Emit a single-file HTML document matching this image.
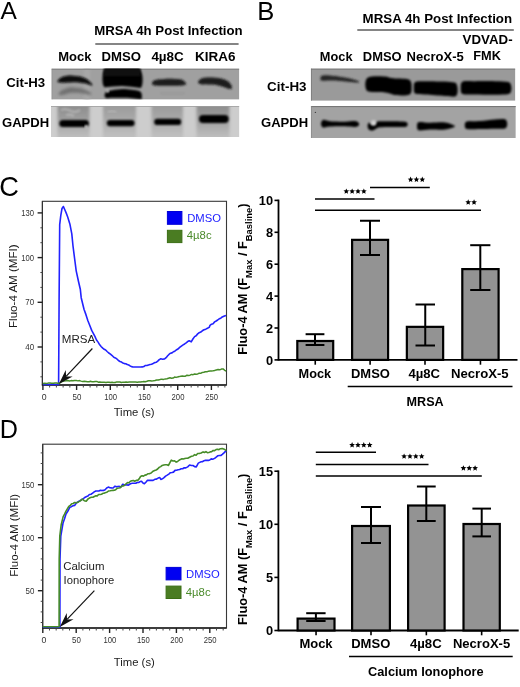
<!DOCTYPE html>
<html><head><meta charset="utf-8"><style>
html,body{margin:0;padding:0;background:#fff;width:520px;height:687px;overflow:hidden}
svg{display:block;font-family:"Liberation Sans",sans-serif;will-change:transform;filter:blur(0.3px)}
</style></head><body>
<svg width="520" height="687" viewBox="0 0 520 687">
<rect width="520" height="687" fill="#fff"/>
<text x="0.5" y="19" font-size="24.5" fill="#000">A</text>
<text x="257.3" y="19.7" font-size="25.6" fill="#000">B</text>
<text x="-0.8" y="195.7" font-size="27.2" fill="#000">C</text>
<text x="-0.2" y="438.3" font-size="25.2" fill="#000">D</text>
<text x="94.2" y="35" font-size="12.8" font-weight="bold" fill="#000" textLength="148.5" lengthAdjust="spacingAndGlyphs">MRSA 4h Post Infection</text>
<line x1="95.3" y1="44.0" x2="238.6" y2="44.0" stroke="#5c5c5c" stroke-width="1.7"/>
<text x="58.3" y="61" font-size="12.9" font-weight="bold" fill="#000" textLength="33.2" lengthAdjust="spacingAndGlyphs">Mock</text>
<text x="101.6" y="61" font-size="12.9" font-weight="bold" fill="#000" textLength="39.5" lengthAdjust="spacingAndGlyphs">DMSO</text>
<text x="151.4" y="61" font-size="12.9" font-weight="bold" fill="#000" textLength="32.4" lengthAdjust="spacingAndGlyphs">4µ8C</text>
<text x="195.0" y="61" font-size="12.9" font-weight="bold" fill="#000" textLength="40.4" lengthAdjust="spacingAndGlyphs">KIRA6</text>
<text x="6.3" y="87" font-size="12.8" font-weight="bold" fill="#000" textLength="38.9" lengthAdjust="spacingAndGlyphs">Cit-H3</text>
<text x="2.0" y="127.1" font-size="12.8" font-weight="bold" fill="#000" textLength="47.2" lengthAdjust="spacingAndGlyphs">GAPDH</text>
<text x="362.6" y="22.9" font-size="12.8" font-weight="bold" fill="#000" textLength="149.5" lengthAdjust="spacingAndGlyphs">MRSA 4h Post Infection</text>
<line x1="357.3" y1="30.0" x2="513.8" y2="30.0" stroke="#5c5c5c" stroke-width="1.7"/>
<text x="319.8" y="60.8" font-size="12.8" font-weight="bold" fill="#000" textLength="32.7" lengthAdjust="spacingAndGlyphs">Mock</text>
<text x="362.8" y="60.8" font-size="12.8" font-weight="bold" fill="#000" textLength="38.9" lengthAdjust="spacingAndGlyphs">DMSO</text>
<text x="406.5" y="60.8" font-size="12.8" font-weight="bold" fill="#000" textLength="57.3" lengthAdjust="spacingAndGlyphs">NecroX-5</text>
<text x="462.6" y="44.4" font-size="12.8" font-weight="bold" fill="#000" textLength="50" lengthAdjust="spacingAndGlyphs">VDVAD-</text>
<text x="473.3" y="59.8" font-size="12.8" font-weight="bold" fill="#000" textLength="27.7" lengthAdjust="spacingAndGlyphs">FMK</text>
<text x="267.1" y="91" font-size="12.8" font-weight="bold" fill="#000" textLength="39.4" lengthAdjust="spacingAndGlyphs">Cit-H3</text>
<text x="261.0" y="126.5" font-size="12.8" font-weight="bold" fill="#000" textLength="47.2" lengthAdjust="spacingAndGlyphs">GAPDH</text>

<defs>
<filter id="b1" x="-20%" y="-60%" width="140%" height="220%"><feGaussianBlur stdDeviation="0.9"/></filter>
<filter id="b2" x="-20%" y="-50%" width="140%" height="200%"><feGaussianBlur stdDeviation="1.8"/></filter>
<filter id="b3" x="-20%" y="-50%" width="140%" height="200%"><feGaussianBlur stdDeviation="3"/></filter>
<clipPath id="cA1"><rect x="51.6" y="68.5" width="187.8" height="31.2"/></clipPath>
<clipPath id="cA2"><rect x="51" y="106.2" width="188.4" height="30.8"/></clipPath>
<clipPath id="cB1"><rect x="310.8" y="68.4" width="204.5" height="32.3"/></clipPath>
<clipPath id="cB2"><rect x="310.8" y="106" width="205" height="32"/></clipPath>
<linearGradient id="lg1" x1="0" y1="0" x2="0" y2="1"><stop offset="0.05" stop-color="#8a8a8a"/><stop offset="0.45" stop-color="#9c9c9c"/><stop offset="0.75" stop-color="#b4b4b4"/><stop offset="1" stop-color="#c4c4c4"/></linearGradient>
<linearGradient id="lg2" x1="0" y1="0" x2="0" y2="1"><stop offset="0.05" stop-color="#989898"/><stop offset="0.45" stop-color="#a8a8a8"/><stop offset="0.75" stop-color="#b9b9b9"/><stop offset="1" stop-color="#c6c6c6"/></linearGradient>
</defs>
<g clip-path="url(#cA1)">
<rect x="51.3" y="68.5" width="188" height="31" fill="#a0a0a0"/>
<rect x="84" y="68.5" width="6" height="31" fill="#a8a8a8" filter="url(#b2)"/>
<rect x="51.3" y="68.5" width="188" height="1.1" fill="#777"/>
<rect x="51.3" y="68.5" width="0.9" height="31" fill="#888"/>
<path d="M57.50,80.70 C58.17,80.12 59.87,78.03 61.50,77.20 C63.13,76.37 65.38,75.95 67.30,75.70 C69.22,75.45 71.08,75.60 73.00,75.70 C74.92,75.80 76.87,75.93 78.80,76.30 C80.73,76.67 82.98,77.25 84.60,77.90 C86.22,78.55 87.23,79.17 88.50,80.20 C89.77,81.23 91.58,83.45 92.20,84.10 L92.20,85.90 C91.58,85.68 89.77,85.03 88.50,84.60 C87.23,84.17 86.22,83.67 84.60,83.30 C82.98,82.93 80.73,82.58 78.80,82.40 C76.87,82.22 74.92,82.18 73.00,82.20 C71.08,82.22 69.22,82.42 67.30,82.50 C65.38,82.58 63.13,82.73 61.50,82.70 C59.87,82.67 58.17,82.37 57.50,82.30 Z" fill="#0a0a0a" filter="url(#b1)"/>
<path d="M58.50,93.20 C59.08,92.70 60.15,91.15 62.00,90.20 C63.85,89.25 67.43,87.92 69.60,87.50 C71.77,87.08 73.27,87.57 75.00,87.70 C76.73,87.83 78.17,87.92 80.00,88.30 C81.83,88.68 84.17,89.27 86.00,90.00 C87.83,90.73 90.17,92.25 91.00,92.70 L91.00,95.30 C90.17,95.10 87.83,94.50 86.00,94.10 C84.17,93.70 81.83,93.13 80.00,92.90 C78.17,92.67 76.73,92.70 75.00,92.70 C73.27,92.70 71.77,92.50 69.60,92.90 C67.43,93.30 63.85,94.78 62.00,95.10 C60.15,95.42 59.08,94.85 58.50,94.80 Z" fill="#707070" filter="url(#b2)"/>
<path d="M104.5,67 L139.5,67 Q142.8,74 142.6,80 Q142.5,86 140.8,88.0 Q131,86.5 122,86.1 Q113,86.5 104.2,87.3 Q102.2,84 102.4,79 Q102.6,72 104.5,67 Z" fill="#050505" filter="url(#b1)"/>
<rect x="104" y="68.5" width="36" height="8" fill="#1a1a1a" filter="url(#b1)" opacity="0.6"/>
<path d="M104.60,94.70 C104.88,94.20 105.07,92.45 106.30,91.70 C107.53,90.95 109.38,90.65 112.00,90.20 C114.62,89.75 118.67,89.08 122.00,89.00 C125.33,88.92 129.08,89.35 132.00,89.70 C134.92,90.05 137.87,90.35 139.50,91.10 C141.13,91.85 141.42,93.68 141.80,94.20 L141.80,98.90 C141.42,98.93 141.13,99.22 139.50,99.10 C137.87,98.98 134.92,98.43 132.00,98.20 C129.08,97.97 125.33,97.77 122.00,97.70 C118.67,97.63 114.62,97.73 112.00,97.80 C109.38,97.87 107.53,98.35 106.30,98.10 C105.07,97.85 104.88,96.60 104.60,96.30 Z" fill="#060606" filter="url(#b1)"/>
<circle cx="107.7" cy="91.2" r="1.3" fill="#e8e8e8" filter="url(#b1)"/>
<path d="M151.90,83.10 C152.42,82.58 152.82,80.70 155.00,80.00 C157.18,79.30 161.67,79.07 165.00,78.90 C168.33,78.73 172.17,78.87 175.00,79.00 C177.83,79.13 180.15,78.98 182.00,79.70 C183.85,80.42 185.42,82.70 186.10,83.30 L186.10,84.50 C185.42,84.67 183.85,85.30 182.00,85.50 C180.15,85.70 177.83,85.67 175.00,85.70 C172.17,85.73 168.33,85.73 165.00,85.70 C161.67,85.67 157.18,85.80 155.00,85.50 C152.82,85.20 152.42,84.17 151.90,83.90 Z" fill="#1a1a1a" filter="url(#b1)"/>
<path d="M198.00,81.70 C198.50,81.20 199.50,79.38 201.00,78.70 C202.50,78.02 204.67,77.77 207.00,77.60 C209.33,77.43 212.50,77.52 215.00,77.70 C217.50,77.88 219.83,78.12 222.00,78.70 C224.17,79.28 226.37,80.03 228.00,81.20 C229.63,82.37 231.17,84.95 231.80,85.70 L231.80,89.30 C231.17,89.18 229.63,89.07 228.00,88.60 C226.37,88.13 224.17,87.15 222.00,86.50 C219.83,85.85 217.50,85.05 215.00,84.70 C212.50,84.35 209.33,84.48 207.00,84.40 C204.67,84.32 202.50,84.48 201.00,84.20 C199.50,83.92 198.50,82.95 198.00,82.70 Z" fill="#1a1a1a" filter="url(#b1)"/>
<rect x="160" y="92.5" width="25" height="1.6" fill="#969696" filter="url(#b1)"/>
</g>
<g clip-path="url(#cA2)">
<rect x="51" y="106" width="188.4" height="31" fill="#cdcdcd"/>
<rect x="57.5" y="100" width="32.0" height="42" fill="url(#lg1)" filter="url(#b2)"/>
<rect x="103" y="100" width="33" height="42" fill="url(#lg2)" filter="url(#b2)"/>
<rect x="151.5" y="100" width="31.5" height="42" fill="url(#lg2)" filter="url(#b2)"/>
<rect x="196.5" y="100" width="33.0" height="42" fill="url(#lg1)" filter="url(#b2)"/>
<rect x="51" y="106" width="188.4" height="1" fill="#999"/>
<path d="M61,110 q5,-2 10,1 q5,2 9,-1 M66,115 q4,-1 8,1" stroke="#c8c8c8" stroke-width="1.8" fill="none" filter="url(#b1)" opacity="0.7"/>
<path d="M108,112 q4,-2 8,0" stroke="#c8c8c8" stroke-width="1.5" fill="none" filter="url(#b1)" opacity="0.6"/>
<rect x="59.3" y="120.0" width="29.6" height="7.100000000000003" rx="3.5500000000000016" fill="#040404" filter="url(#b1)"/>
<rect x="106.8" y="119.89999999999999" width="27.800000000000004" height="6.4" rx="3.2" fill="#040404" filter="url(#b1)"/>
<rect x="154.20000000000002" y="118.8" width="26.999999999999993" height="6.300000000000006" rx="3.150000000000003" fill="#040404" filter="url(#b1)"/>
<rect x="199.0" y="115.1" width="29.70000000000001" height="8.000000000000009" rx="4.000000000000004" fill="#040404" filter="url(#b1)"/>
<circle cx="86.2" cy="126.4" r="1.5" fill="#eee" filter="url(#b1)"/>
</g>
<g clip-path="url(#cB1)">
<rect x="310.8" y="68.4" width="204.7" height="32.4" fill="#9a9a9a"/>
<rect x="310.8" y="68.4" width="204.7" height="1.1" fill="#6e6e6e"/>
<rect x="310.8" y="68.4" width="0.9" height="32.4" fill="#777"/>
<path d="M320.40,78.10 C320.67,77.70 320.40,76.13 322.00,75.70 C323.60,75.27 327.00,75.33 330.00,75.50 C333.00,75.67 336.67,76.20 340.00,76.70 C343.33,77.20 346.83,77.75 350.00,78.50 C353.17,79.25 357.50,80.75 359.00,81.20 L359.00,82.60 C357.50,82.48 353.17,82.18 350.00,81.90 C346.83,81.62 343.33,81.13 340.00,80.90 C336.67,80.67 333.00,80.52 330.00,80.50 C327.00,80.48 323.60,81.07 322.00,80.80 C320.40,80.53 320.67,79.22 320.40,78.90 Z" fill="#262626" filter="url(#b1)"/>
<path d="M365.30,83.20 C365.55,82.42 365.68,79.63 366.80,78.50 C367.92,77.37 368.97,76.73 372.00,76.40 C375.03,76.07 382.00,76.27 385.00,76.50 C388.00,76.73 388.33,77.48 390.00,77.80 C391.67,78.12 392.50,78.25 395.00,78.40 C397.50,78.55 402.50,78.40 405.00,78.70 C407.50,79.00 408.90,79.28 410.00,80.20 C411.10,81.12 411.33,83.53 411.60,84.20 L411.60,90.80 C411.33,91.38 411.10,93.52 410.00,94.30 C408.90,95.08 407.50,95.37 405.00,95.50 C402.50,95.63 397.50,95.42 395.00,95.10 C392.50,94.78 391.67,94.05 390.00,93.60 C388.33,93.15 388.00,92.65 385.00,92.40 C382.00,92.15 375.03,92.40 372.00,92.10 C368.97,91.80 367.92,91.68 366.80,90.60 C365.68,89.52 365.55,86.43 365.30,85.60 Z" fill="#030303" filter="url(#b1)"/>
<path d="M413.80,86.70 C414.05,85.92 413.43,82.92 415.30,82.00 C417.17,81.08 420.05,81.27 425.00,81.20 C429.95,81.13 440.13,81.37 445.00,81.60 C449.87,81.83 452.27,82.17 454.20,82.60 C456.13,83.03 456.03,83.27 456.60,84.20 C457.17,85.13 457.43,87.53 457.60,88.20 L457.60,92.30 C457.43,92.80 457.17,94.58 456.60,95.30 C456.03,96.02 456.13,96.47 454.20,96.60 C452.27,96.73 449.87,96.43 445.00,96.10 C440.13,95.77 429.95,95.02 425.00,94.60 C420.05,94.18 417.17,94.48 415.30,93.60 C413.43,92.72 414.05,90.02 413.80,89.30 Z" fill="#030303" filter="url(#b1)"/>
<path d="M460.70,87.30 C461.02,86.37 460.22,82.72 462.60,81.70 C464.98,80.68 469.60,81.28 475.00,81.20 C480.40,81.12 489.42,81.05 495.00,81.20 C500.58,81.35 505.77,81.17 508.50,82.10 C511.23,83.03 510.92,86.02 511.40,86.80 L511.40,89.90 C510.92,90.58 511.23,93.20 508.50,94.00 C505.77,94.80 500.58,94.63 495.00,94.70 C489.42,94.77 480.40,94.53 475.00,94.40 C469.60,94.27 464.98,94.75 462.60,93.90 C460.22,93.05 461.02,90.07 460.70,89.30 Z" fill="#030303" filter="url(#b1)"/>
</g>
<g clip-path="url(#cB2)">
<rect x="310.8" y="106" width="205" height="32" fill="#a3a3a3"/>
<rect x="310.8" y="106" width="205" height="1.1" fill="#777"/>
<rect x="310.8" y="106" width="0.9" height="32" fill="#888"/>
<path d="M321.00,123.20 C321.33,122.65 321.50,120.22 323.00,119.90 C324.50,119.58 326.33,121.00 330.00,121.30 C333.67,121.60 340.83,121.75 345.00,121.70 C349.17,121.65 352.67,120.78 355.00,121.00 C357.33,121.22 358.33,122.67 359.00,123.00 L359.00,125.50 C358.33,125.75 357.33,126.87 355.00,127.00 C352.67,127.13 349.17,126.38 345.00,126.30 C340.83,126.22 333.67,126.30 330.00,126.50 C326.33,126.70 324.50,127.83 323.00,127.50 C321.50,127.17 321.33,125.00 321.00,124.50 Z" fill="#060606" filter="url(#b1)"/>
<path d="M367.60,125.20 C367.83,124.78 368.18,122.78 369.00,122.70 C369.82,122.62 371.25,124.80 372.50,124.70 C373.75,124.60 375.25,122.67 376.50,122.10 C377.75,121.53 377.75,121.43 380.00,121.30 C382.25,121.17 386.67,121.28 390.00,121.30 C393.33,121.32 397.42,121.33 400.00,121.40 C402.58,121.47 404.23,121.38 405.50,121.70 C406.77,122.02 407.25,123.03 407.60,123.30 L407.60,125.50 C407.25,125.73 406.77,126.63 405.50,126.90 C404.23,127.17 402.58,127.10 400.00,127.10 C397.42,127.10 393.33,126.87 390.00,126.90 C386.67,126.93 382.25,127.03 380.00,127.30 C377.75,127.57 377.75,127.95 376.50,128.50 C375.25,129.05 373.75,130.38 372.50,130.60 C371.25,130.82 369.82,130.43 369.00,129.80 C368.18,129.17 367.83,127.30 367.60,126.80 Z" fill="#060606" filter="url(#b1)"/>
<circle cx="373.6" cy="122.9" r="2.6" fill="#d6d6d6" filter="url(#b1)"/>
<path d="M417.00,125.50 C417.33,124.93 416.83,122.55 419.00,122.10 C421.17,121.65 425.67,122.73 430.00,122.80 C434.33,122.87 440.90,122.05 445.00,122.50 C449.10,122.95 453.00,125.00 454.60,125.50 L454.60,126.90 C453.00,127.33 449.10,129.07 445.00,129.50 C440.90,129.93 434.33,129.37 430.00,129.50 C425.67,129.63 421.17,130.73 419.00,130.30 C416.83,129.87 417.33,127.47 417.00,126.90 Z" fill="#060606" filter="url(#b1)"/>
<path d="M464.80,124.50 C465.17,124.00 464.47,122.08 467.00,121.50 C469.53,120.92 475.33,121.33 480.00,121.00 C484.67,120.67 490.83,119.78 495.00,119.50 C499.17,119.22 502.97,118.72 505.00,119.30 C507.03,119.88 506.83,122.38 507.20,123.00 L507.20,125.00 C506.83,125.58 507.03,127.88 505.00,128.50 C502.97,129.12 499.17,128.62 495.00,128.70 C490.83,128.78 484.67,128.95 480.00,129.00 C475.33,129.05 469.53,129.52 467.00,129.00 C464.47,128.48 465.17,126.42 464.80,125.90 Z" fill="#060606" filter="url(#b1)"/>
<circle cx="315.4" cy="112.4" r="0.7" fill="#444"/>
</g>
<rect x="42.4" y="201.3" width="184.1" height="183.7" fill="none" stroke="#383838" stroke-width="1.1"/>
<line x1="42.4" y1="201.3" x2="42.4" y2="385.5" stroke="#333" stroke-width="1.15"/>
<line x1="41.9" y1="385" x2="226.5" y2="385" stroke="#222" stroke-width="1.5"/>
<line x1="37.6" y1="347.0" x2="42.4" y2="347.0" stroke="#222" stroke-width="1.4"/>
<line x1="37.6" y1="302.3" x2="42.4" y2="302.3" stroke="#222" stroke-width="1.4"/>
<line x1="37.6" y1="257.6" x2="42.4" y2="257.6" stroke="#222" stroke-width="1.4"/>
<line x1="37.6" y1="212.90000000000003" x2="42.4" y2="212.90000000000003" stroke="#222" stroke-width="1.4"/>
<line x1="40.4" y1="376.8" x2="42.4" y2="376.8" stroke="#444" stroke-width="1"/>
<line x1="40.4" y1="361.90000000000003" x2="42.4" y2="361.90000000000003" stroke="#444" stroke-width="1"/>
<line x1="40.4" y1="332.1" x2="42.4" y2="332.1" stroke="#444" stroke-width="1"/>
<line x1="40.4" y1="317.20000000000005" x2="42.4" y2="317.20000000000005" stroke="#444" stroke-width="1"/>
<line x1="40.4" y1="287.40000000000003" x2="42.4" y2="287.40000000000003" stroke="#444" stroke-width="1"/>
<line x1="40.4" y1="272.5" x2="42.4" y2="272.5" stroke="#444" stroke-width="1"/>
<line x1="40.4" y1="242.70000000000002" x2="42.4" y2="242.70000000000002" stroke="#444" stroke-width="1"/>
<line x1="40.4" y1="227.8" x2="42.4" y2="227.8" stroke="#444" stroke-width="1"/>
<text x="34.099999999999994" y="350.0" font-size="8.4" fill="#333" text-anchor="end" textLength="8.84" lengthAdjust="spacingAndGlyphs">40</text>
<text x="34.099999999999994" y="305.3" font-size="8.4" fill="#333" text-anchor="end" textLength="8.84" lengthAdjust="spacingAndGlyphs">70</text>
<text x="34.099999999999994" y="260.6" font-size="8.4" fill="#333" text-anchor="end" textLength="12.81" lengthAdjust="spacingAndGlyphs">100</text>
<text x="34.099999999999994" y="215.90000000000003" font-size="8.4" fill="#333" text-anchor="end" textLength="12.81" lengthAdjust="spacingAndGlyphs">130</text>
<line x1="42.9" y1="385" x2="42.9" y2="390" stroke="#222" stroke-width="1.4"/>
<text x="44.1" y="400" font-size="8.4" fill="#333" text-anchor="middle" textLength="4.87" lengthAdjust="spacingAndGlyphs">0</text>
<line x1="49.64" y1="385" x2="49.64" y2="387.5" stroke="#444" stroke-width="1"/>
<line x1="56.379999999999995" y1="385" x2="56.379999999999995" y2="387.5" stroke="#444" stroke-width="1"/>
<line x1="63.120000000000005" y1="385" x2="63.120000000000005" y2="387.5" stroke="#444" stroke-width="1"/>
<line x1="69.86" y1="385" x2="69.86" y2="387.5" stroke="#444" stroke-width="1"/>
<line x1="76.6" y1="385" x2="76.6" y2="390" stroke="#222" stroke-width="1.4"/>
<text x="76.89999999999999" y="400" font-size="8.4" fill="#333" text-anchor="middle" textLength="8.84" lengthAdjust="spacingAndGlyphs">50</text>
<line x1="83.34" y1="385" x2="83.34" y2="387.5" stroke="#444" stroke-width="1"/>
<line x1="90.08" y1="385" x2="90.08" y2="387.5" stroke="#444" stroke-width="1"/>
<line x1="96.82" y1="385" x2="96.82" y2="387.5" stroke="#444" stroke-width="1"/>
<line x1="103.56" y1="385" x2="103.56" y2="387.5" stroke="#444" stroke-width="1"/>
<line x1="110.30000000000001" y1="385" x2="110.30000000000001" y2="390" stroke="#222" stroke-width="1.4"/>
<text x="110.60000000000001" y="400" font-size="8.4" fill="#333" text-anchor="middle" textLength="12.81" lengthAdjust="spacingAndGlyphs">100</text>
<line x1="117.03999999999999" y1="385" x2="117.03999999999999" y2="387.5" stroke="#444" stroke-width="1"/>
<line x1="123.78" y1="385" x2="123.78" y2="387.5" stroke="#444" stroke-width="1"/>
<line x1="130.52" y1="385" x2="130.52" y2="387.5" stroke="#444" stroke-width="1"/>
<line x1="137.26" y1="385" x2="137.26" y2="387.5" stroke="#444" stroke-width="1"/>
<line x1="144.0" y1="385" x2="144.0" y2="390" stroke="#222" stroke-width="1.4"/>
<text x="144.3" y="400" font-size="8.4" fill="#333" text-anchor="middle" textLength="12.81" lengthAdjust="spacingAndGlyphs">150</text>
<line x1="150.74" y1="385" x2="150.74" y2="387.5" stroke="#444" stroke-width="1"/>
<line x1="157.48000000000002" y1="385" x2="157.48000000000002" y2="387.5" stroke="#444" stroke-width="1"/>
<line x1="164.22" y1="385" x2="164.22" y2="387.5" stroke="#444" stroke-width="1"/>
<line x1="170.96" y1="385" x2="170.96" y2="387.5" stroke="#444" stroke-width="1"/>
<line x1="177.70000000000002" y1="385" x2="177.70000000000002" y2="390" stroke="#222" stroke-width="1.4"/>
<text x="178.00000000000003" y="400" font-size="8.4" fill="#333" text-anchor="middle" textLength="12.81" lengthAdjust="spacingAndGlyphs">200</text>
<line x1="184.44000000000003" y1="385" x2="184.44000000000003" y2="387.5" stroke="#444" stroke-width="1"/>
<line x1="191.18" y1="385" x2="191.18" y2="387.5" stroke="#444" stroke-width="1"/>
<line x1="197.92000000000002" y1="385" x2="197.92000000000002" y2="387.5" stroke="#444" stroke-width="1"/>
<line x1="204.66000000000003" y1="385" x2="204.66000000000003" y2="387.5" stroke="#444" stroke-width="1"/>
<line x1="211.4" y1="385" x2="211.4" y2="390" stroke="#222" stroke-width="1.4"/>
<text x="211.70000000000002" y="400" font-size="8.4" fill="#333" text-anchor="middle" textLength="12.81" lengthAdjust="spacingAndGlyphs">250</text>
<line x1="218.14000000000001" y1="385" x2="218.14000000000001" y2="387.5" stroke="#444" stroke-width="1"/>
<line x1="224.88000000000002" y1="385" x2="224.88000000000002" y2="387.5" stroke="#444" stroke-width="1"/>
<text x="134.14999999999998" y="416.3" font-size="11.3" fill="#222" text-anchor="middle">Time (s)</text>
<text x="0" y="0" font-size="11.7" fill="#1a1a1a" text-anchor="middle" textLength="83.5" lengthAdjust="spacingAndGlyphs" transform="translate(16.8,286.2) rotate(-90)">Fluo-4 AM (MFI)</text>
<polyline points="42.90,384.50 44.33,384.50 45.75,384.50 47.18,384.50 48.61,384.50 50.04,384.50 51.46,384.50 52.89,384.50 54.32,384.50 55.75,384.50 57.17,384.50 58.60,384.50 59.10,300.00 59.70,224.60 60.80,215.40 62.00,208.50 63.40,206.50 64.60,209.20 66.15,212.86 67.70,217.00 70.00,224.60 71.80,233.80 73.00,246.00 74.60,258.50 76.20,270.80 78.50,281.50 80.30,289.20 81.20,297.70 84.00,309.20 85.95,314.64 87.90,320.80 89.80,325.51 91.70,330.40 93.30,333.29 94.90,336.41 96.50,340.00 98.10,342.14 99.70,344.84 101.30,346.70 102.75,348.17 104.20,349.34 105.65,350.05 107.10,351.50 108.77,352.98 110.45,354.20 112.12,355.56 113.80,357.30 115.34,357.91 116.88,358.96 118.42,360.56 119.96,361.44 121.50,362.10 122.95,363.00 124.40,363.62 125.85,363.70 127.30,364.60 128.72,365.03 130.15,365.91 131.57,366.61 133.00,367.00 134.56,367.00 136.12,367.00 137.68,367.00 139.24,367.00 140.80,367.00 142.34,366.92 143.88,366.54 145.42,365.43 146.96,365.50 148.50,365.00 150.00,364.60 151.55,364.18 153.10,363.46 154.65,362.59 156.20,362.30 157.73,361.11 159.27,359.60 160.80,358.80 162.70,359.24 164.60,358.90 166.13,357.66 167.67,355.81 169.20,354.20 170.60,353.18 172.00,352.89 173.40,351.75 174.80,351.18 176.20,350.00 177.92,349.04 179.65,347.46 181.38,346.10 183.10,344.90 184.62,343.96 186.15,342.79 187.67,341.52 189.20,340.80 191.20,341.80 192.90,339.02 194.60,336.60 196.14,335.72 197.68,333.87 199.22,332.71 200.76,332.07 202.30,330.80 204.03,329.75 205.75,329.13 207.47,328.22 209.20,327.40 210.00,325.40 211.54,324.18 213.08,323.69 214.62,321.89 216.16,321.00 217.70,320.00 219.22,318.78 220.75,318.22 222.28,316.95 223.80,316.20 226.00,315.40" fill="none" stroke="#2222ff" stroke-width="1.6" stroke-linejoin="round"/>
<polyline points="42.90,383.60 44.67,383.27 46.45,383.39 48.23,383.12 50.00,383.10 51.70,383.24 53.40,383.32 55.10,382.93 56.80,382.95 58.50,383.40 60.25,382.72 62.00,381.50 64.00,380.96 66.00,380.80 67.72,380.53 69.44,381.08 71.16,380.60 72.88,380.83 74.60,380.50 76.23,380.61 77.86,380.87 79.49,380.61 81.11,381.12 82.74,381.44 84.37,381.29 86.00,381.40 87.53,381.65 89.07,381.66 90.60,381.23 92.13,381.85 93.67,381.77 95.20,381.60 96.73,381.44 98.27,382.17 99.80,381.92 101.33,382.18 102.87,382.36 104.40,382.29 105.93,382.52 107.47,382.16 109.00,382.30 110.55,382.53 112.11,382.23 113.66,382.61 115.21,382.55 116.77,381.91 118.32,381.93 119.87,381.98 121.43,382.57 122.98,382.13 124.53,382.27 126.09,381.99 127.64,382.15 129.19,382.04 130.75,381.99 132.30,382.10 133.94,382.08 135.59,382.00 137.23,382.17 138.87,381.90 140.51,382.01 142.16,381.87 143.80,381.50 145.35,381.72 146.90,381.29 148.45,380.71 150.00,380.80 151.67,380.89 153.33,380.77 155.00,380.52 156.67,380.06 158.33,379.97 160.00,379.60 161.80,379.14 163.60,379.40 165.40,378.90 166.94,378.71 168.47,378.23 170.01,377.80 171.55,378.18 173.09,378.04 174.62,377.07 176.16,377.39 177.70,376.90 179.24,376.61 180.79,376.19 182.33,376.09 183.87,376.26 185.41,376.13 186.96,375.25 188.50,375.40 190.03,375.18 191.56,374.42 193.09,374.64 194.62,374.02 196.15,374.15 197.68,373.92 199.21,373.23 200.74,373.32 202.27,372.46 203.80,372.30 205.34,371.70 206.89,371.87 208.43,371.15 209.97,371.03 211.51,370.94 213.06,370.85 214.60,370.50 216.30,369.90 218.00,369.49 219.70,369.83 221.40,369.07 223.10,368.90 224.65,370.32 226.20,371.00" fill="none" stroke="#468c28" stroke-width="1.5" stroke-linejoin="round"/>
<rect x="167.4" y="211.5" width="14.5" height="12.8" fill="#0000f2" stroke="#0000d8" stroke-width="1"/>
<rect x="167.4" y="230.3" width="14.5" height="12.3" fill="#4a7c22" stroke="#3b6e14" stroke-width="1"/>
<text x="187.2" y="221.8" font-size="11.4" fill="#1a1aff" textLength="33.8" lengthAdjust="spacingAndGlyphs">DMSO</text>
<text x="186.8" y="239.1" font-size="11.4" fill="#4a8a2a" textLength="24.8" lengthAdjust="spacingAndGlyphs">4µ8c</text>
<text x="61.8" y="342.6" font-size="11.8" fill="#222" textLength="33.4" lengthAdjust="spacingAndGlyphs">MRSA</text>
<line x1="92.4" y1="348.5" x2="66.09565930667556" y2="376.453269512906" stroke="#111" stroke-width="1.2"/>
<polygon points="58.90,384.10 72.60,376.40 66.10,376.45 65.76,369.96" fill="#111"/>
<rect x="42.7" y="444.2" width="183.8" height="183.8" fill="none" stroke="#383838" stroke-width="1.1"/>
<line x1="42.7" y1="444.2" x2="42.7" y2="628.5" stroke="#333" stroke-width="1.15"/>
<line x1="42.2" y1="628" x2="226.5" y2="628" stroke="#222" stroke-width="1.5"/>
<line x1="37.900000000000006" y1="590.7" x2="42.7" y2="590.7" stroke="#222" stroke-width="1.4"/>
<line x1="37.900000000000006" y1="537.7" x2="42.7" y2="537.7" stroke="#222" stroke-width="1.4"/>
<line x1="37.900000000000006" y1="484.70000000000005" x2="42.7" y2="484.70000000000005" stroke="#222" stroke-width="1.4"/>
<line x1="40.7" y1="622.5" x2="42.7" y2="622.5" stroke="#444" stroke-width="1"/>
<line x1="40.7" y1="611.9000000000001" x2="42.7" y2="611.9000000000001" stroke="#444" stroke-width="1"/>
<line x1="40.7" y1="601.3000000000001" x2="42.7" y2="601.3000000000001" stroke="#444" stroke-width="1"/>
<line x1="40.7" y1="580.1" x2="42.7" y2="580.1" stroke="#444" stroke-width="1"/>
<line x1="40.7" y1="569.5" x2="42.7" y2="569.5" stroke="#444" stroke-width="1"/>
<line x1="40.7" y1="558.9000000000001" x2="42.7" y2="558.9000000000001" stroke="#444" stroke-width="1"/>
<line x1="40.7" y1="548.3000000000001" x2="42.7" y2="548.3000000000001" stroke="#444" stroke-width="1"/>
<line x1="40.7" y1="527.1" x2="42.7" y2="527.1" stroke="#444" stroke-width="1"/>
<line x1="40.7" y1="516.5" x2="42.7" y2="516.5" stroke="#444" stroke-width="1"/>
<line x1="40.7" y1="505.90000000000003" x2="42.7" y2="505.90000000000003" stroke="#444" stroke-width="1"/>
<line x1="40.7" y1="495.30000000000007" x2="42.7" y2="495.30000000000007" stroke="#444" stroke-width="1"/>
<line x1="40.7" y1="474.1" x2="42.7" y2="474.1" stroke="#444" stroke-width="1"/>
<line x1="40.7" y1="463.50000000000006" x2="42.7" y2="463.50000000000006" stroke="#444" stroke-width="1"/>
<line x1="40.7" y1="452.90000000000003" x2="42.7" y2="452.90000000000003" stroke="#444" stroke-width="1"/>
<text x="34.400000000000006" y="593.7" font-size="8.4" fill="#333" text-anchor="end" textLength="8.84" lengthAdjust="spacingAndGlyphs">50</text>
<text x="34.400000000000006" y="540.7" font-size="8.4" fill="#333" text-anchor="end" textLength="12.81" lengthAdjust="spacingAndGlyphs">100</text>
<text x="34.400000000000006" y="487.70000000000005" font-size="8.4" fill="#333" text-anchor="end" textLength="12.81" lengthAdjust="spacingAndGlyphs">150</text>
<line x1="42.8" y1="628" x2="42.8" y2="633" stroke="#222" stroke-width="1.4"/>
<text x="44.0" y="642.8" font-size="8.4" fill="#333" text-anchor="middle" textLength="4.87" lengthAdjust="spacingAndGlyphs">0</text>
<line x1="49.48" y1="628" x2="49.48" y2="630.5" stroke="#444" stroke-width="1"/>
<line x1="56.16" y1="628" x2="56.16" y2="630.5" stroke="#444" stroke-width="1"/>
<line x1="62.84" y1="628" x2="62.84" y2="630.5" stroke="#444" stroke-width="1"/>
<line x1="69.52" y1="628" x2="69.52" y2="630.5" stroke="#444" stroke-width="1"/>
<line x1="76.19999999999999" y1="628" x2="76.19999999999999" y2="633" stroke="#222" stroke-width="1.4"/>
<text x="76.49999999999999" y="642.8" font-size="8.4" fill="#333" text-anchor="middle" textLength="8.84" lengthAdjust="spacingAndGlyphs">50</text>
<line x1="82.88" y1="628" x2="82.88" y2="630.5" stroke="#444" stroke-width="1"/>
<line x1="89.56" y1="628" x2="89.56" y2="630.5" stroke="#444" stroke-width="1"/>
<line x1="96.24000000000001" y1="628" x2="96.24000000000001" y2="630.5" stroke="#444" stroke-width="1"/>
<line x1="102.92" y1="628" x2="102.92" y2="630.5" stroke="#444" stroke-width="1"/>
<line x1="109.6" y1="628" x2="109.6" y2="633" stroke="#222" stroke-width="1.4"/>
<text x="109.89999999999999" y="642.8" font-size="8.4" fill="#333" text-anchor="middle" textLength="12.81" lengthAdjust="spacingAndGlyphs">100</text>
<line x1="116.28" y1="628" x2="116.28" y2="630.5" stroke="#444" stroke-width="1"/>
<line x1="122.96000000000001" y1="628" x2="122.96000000000001" y2="630.5" stroke="#444" stroke-width="1"/>
<line x1="129.64" y1="628" x2="129.64" y2="630.5" stroke="#444" stroke-width="1"/>
<line x1="136.32" y1="628" x2="136.32" y2="630.5" stroke="#444" stroke-width="1"/>
<line x1="143.0" y1="628" x2="143.0" y2="633" stroke="#222" stroke-width="1.4"/>
<text x="143.3" y="642.8" font-size="8.4" fill="#333" text-anchor="middle" textLength="12.81" lengthAdjust="spacingAndGlyphs">150</text>
<line x1="149.68" y1="628" x2="149.68" y2="630.5" stroke="#444" stroke-width="1"/>
<line x1="156.36" y1="628" x2="156.36" y2="630.5" stroke="#444" stroke-width="1"/>
<line x1="163.04000000000002" y1="628" x2="163.04000000000002" y2="630.5" stroke="#444" stroke-width="1"/>
<line x1="169.72" y1="628" x2="169.72" y2="630.5" stroke="#444" stroke-width="1"/>
<line x1="176.39999999999998" y1="628" x2="176.39999999999998" y2="633" stroke="#222" stroke-width="1.4"/>
<text x="176.7" y="642.8" font-size="8.4" fill="#333" text-anchor="middle" textLength="12.81" lengthAdjust="spacingAndGlyphs">200</text>
<line x1="183.07999999999998" y1="628" x2="183.07999999999998" y2="630.5" stroke="#444" stroke-width="1"/>
<line x1="189.76" y1="628" x2="189.76" y2="630.5" stroke="#444" stroke-width="1"/>
<line x1="196.44" y1="628" x2="196.44" y2="630.5" stroke="#444" stroke-width="1"/>
<line x1="203.12" y1="628" x2="203.12" y2="630.5" stroke="#444" stroke-width="1"/>
<line x1="209.8" y1="628" x2="209.8" y2="633" stroke="#222" stroke-width="1.4"/>
<text x="210.10000000000002" y="642.8" font-size="8.4" fill="#333" text-anchor="middle" textLength="12.81" lengthAdjust="spacingAndGlyphs">250</text>
<line x1="216.48000000000002" y1="628" x2="216.48000000000002" y2="630.5" stroke="#444" stroke-width="1"/>
<line x1="223.16000000000003" y1="628" x2="223.16000000000003" y2="630.5" stroke="#444" stroke-width="1"/>
<text x="134.29999999999998" y="665.8" font-size="11.3" fill="#222" text-anchor="middle">Time (s)</text>
<text x="0" y="0" font-size="11.7" fill="#1a1a1a" text-anchor="middle" textLength="83.0" lengthAdjust="spacingAndGlyphs" transform="translate(18.2,535.3) rotate(-90)">Fluo-4 AM (MFI)</text>
<polyline points="42.80,627.30 44.22,627.30 45.65,627.30 47.07,627.30 48.50,627.30 49.92,627.30 51.35,627.30 52.77,627.30 54.20,627.30 55.62,627.30 57.05,627.30 58.47,627.30 59.90,627.30 60.00,559.20 60.80,536.00 63.10,522.70 64.55,518.70 66.00,514.00 67.90,511.04 69.80,507.30 71.40,506.65 73.00,505.75 74.60,505.40 76.55,502.85 78.50,501.50 80.04,500.74 81.58,499.54 83.12,498.93 84.66,497.51 86.20,496.70 87.80,496.07 89.40,494.53 91.00,494.21 92.60,493.18 94.20,491.85 95.80,491.00 97.34,490.93 98.88,490.98 100.42,490.27 101.96,490.58 103.50,490.40 105.10,489.67 106.70,487.92 108.30,487.10 109.90,487.76 111.50,487.92 113.10,488.00 115.00,486.20 116.45,486.84 117.90,486.45 119.35,486.39 120.80,487.10 122.70,484.20 124.15,484.81 125.60,485.07 127.05,484.88 128.50,485.20 130.40,483.76 132.30,483.30 134.05,483.30 135.80,483.30 137.23,482.44 138.65,482.46 140.07,481.55 141.50,481.30 142.95,483.09 144.40,483.80 145.85,482.21 147.30,480.40 148.75,480.40 150.20,480.40 151.65,480.40 153.10,480.40 154.78,479.32 156.45,479.14 158.12,478.06 159.80,477.50 160.80,479.40 162.40,478.80 164.00,477.66 165.60,476.07 167.20,475.11 168.80,474.05 170.40,472.70 171.94,472.49 173.48,472.11 175.02,470.39 176.56,470.21 178.10,469.80 179.64,469.54 181.18,468.81 182.72,468.77 184.26,467.79 185.80,467.90 187.70,466.91 189.60,465.00 191.28,465.51 192.95,465.49 194.62,466.62 196.30,466.90 198.30,463.10 199.73,462.39 201.17,461.77 202.60,461.63 204.03,460.73 205.47,460.34 206.90,460.20 208.35,460.39 209.80,459.94 211.25,458.87 212.70,459.20 214.60,458.38 216.50,456.90 217.95,455.70 219.40,455.45 220.85,455.51 222.30,454.40 224.25,452.64 226.20,450.60" fill="none" stroke="#2222ff" stroke-width="1.6" stroke-linejoin="round"/>
<polyline points="42.80,626.70 44.28,626.70 45.76,626.70 47.25,626.70 48.73,626.70 50.21,626.70 51.69,626.70 53.17,626.70 54.65,626.70 56.14,626.70 57.62,626.70 59.10,626.70 59.20,559.20 59.80,536.20 61.20,524.60 63.10,516.90 64.55,514.20 66.00,511.20 68.80,506.30 70.25,505.34 71.70,503.80 73.15,503.50 74.60,502.50 76.55,502.73 78.50,501.90 80.40,500.84 82.30,499.20 84.25,500.71 86.20,501.20 88.10,498.88 90.00,497.70 91.45,497.18 92.90,497.28 94.35,496.45 95.80,495.80 97.22,495.88 98.65,494.54 100.08,494.56 101.50,494.20 102.95,493.32 104.40,493.10 105.85,492.56 107.30,491.90 108.75,490.94 110.20,490.81 111.65,490.51 113.10,490.40 114.52,490.30 115.95,489.52 117.38,488.19 118.80,488.00 120.25,487.66 121.70,486.17 123.15,486.04 124.60,485.20 126.05,483.78 127.50,482.65 128.95,482.72 130.40,481.30 131.85,480.73 133.30,480.51 134.75,481.20 136.20,480.40 137.70,480.40 139.15,478.90 140.60,476.50 142.03,475.78 143.47,476.12 144.90,475.15 146.33,474.85 147.77,473.81 149.20,473.70 151.15,472.98 153.10,471.20 154.61,470.54 156.13,469.99 157.64,469.02 159.16,467.42 160.67,466.60 162.19,465.48 163.70,465.00 165.30,464.71 166.90,464.74 168.50,465.40 169.90,462.56 171.30,460.20 172.93,460.96 174.57,460.87 176.20,462.10 177.62,461.49 179.05,460.26 180.47,459.40 181.90,458.80 183.35,459.06 184.80,458.53 186.25,458.20 187.70,458.30 189.60,457.28 191.50,456.30 193.04,455.99 194.58,454.65 196.12,455.19 197.66,453.49 199.20,453.50 201.15,453.00 203.10,451.90 204.53,452.46 205.95,451.62 207.38,452.70 208.80,452.50 210.25,451.86 211.70,451.64 213.15,450.49 214.60,450.60 216.05,449.58 217.50,449.27 218.95,449.72 220.40,448.70 222.30,448.59 224.20,449.20 226.20,450.60" fill="none" stroke="#468c28" stroke-width="1.6" stroke-linejoin="round"/>
<rect x="166.1" y="567.4" width="14.9" height="12.5" fill="#0000f2" stroke="#0000d8" stroke-width="1"/>
<rect x="166.1" y="586.1" width="14.9" height="12.4" fill="#4a7c22" stroke="#3b6e14" stroke-width="1"/>
<text x="186.0" y="577.7" font-size="11.4" fill="#1a1aff" textLength="33.8" lengthAdjust="spacingAndGlyphs">DMSO</text>
<text x="185.8" y="595.5" font-size="11.4" fill="#4a8a2a" textLength="24.8" lengthAdjust="spacingAndGlyphs">4µ8c</text>
<text x="63.2" y="569.8" font-size="11.4" fill="#222" textLength="41.3" lengthAdjust="spacingAndGlyphs">Calcium</text>
<text x="63.6" y="583.8" font-size="11.4" fill="#222" textLength="50.6" lengthAdjust="spacingAndGlyphs">Ionophore</text>
<line x1="94.4" y1="590.6" x2="67.03406696804097" y2="619.3895942879569" stroke="#111" stroke-width="1.2"/>
<polygon points="59.80,627.00 73.54,619.37 67.03,619.39 66.73,612.89" fill="#111"/>
<line x1="274.5" y1="359.9" x2="278.5" y2="359.9" stroke="#000" stroke-width="1.6"/>
<text x="273.1" y="364.5" font-size="12.8" font-weight="bold" fill="#000" text-anchor="end">0</text>
<line x1="274.5" y1="328.0" x2="278.5" y2="328.0" stroke="#000" stroke-width="1.6"/>
<text x="273.1" y="332.6" font-size="12.8" font-weight="bold" fill="#000" text-anchor="end">2</text>
<line x1="274.5" y1="296.09999999999997" x2="278.5" y2="296.09999999999997" stroke="#000" stroke-width="1.6"/>
<text x="273.1" y="300.7" font-size="12.8" font-weight="bold" fill="#000" text-anchor="end">4</text>
<line x1="274.5" y1="264.2" x2="278.5" y2="264.2" stroke="#000" stroke-width="1.6"/>
<text x="273.1" y="268.8" font-size="12.8" font-weight="bold" fill="#000" text-anchor="end">6</text>
<line x1="274.5" y1="232.29999999999998" x2="278.5" y2="232.29999999999998" stroke="#000" stroke-width="1.6"/>
<text x="273.1" y="236.89999999999998" font-size="12.8" font-weight="bold" fill="#000" text-anchor="end">8</text>
<line x1="274.5" y1="200.39999999999998" x2="278.5" y2="200.39999999999998" stroke="#000" stroke-width="1.6"/>
<text x="273.1" y="204.99999999999997" font-size="12.8" font-weight="bold" fill="#000" text-anchor="end">10</text>
<line x1="278.5" y1="199.59999999999997" x2="278.5" y2="360.7" stroke="#000" stroke-width="1.8"/>
<line x1="278.5" y1="359.9" x2="517.5" y2="359.9" stroke="#000" stroke-width="1.8"/>
<rect x="297.3" y="341.0" width="35.90000000000002" height="18.9" fill="#939393" stroke="#000" stroke-width="2.2"/>
<line x1="315.0" y1="334.2" x2="315.0" y2="345" stroke="#000" stroke-width="2.0"/>
<line x1="305.6" y1="334.2" x2="324.4" y2="334.2" stroke="#000" stroke-width="2.0"/>
<line x1="305.6" y1="345" x2="324.4" y2="345" stroke="#000" stroke-width="2.0"/>
<line x1="315.25" y1="359.9" x2="315.25" y2="364.7" stroke="#000" stroke-width="1.6"/>
<text x="298.6" y="378" font-size="12.8" font-weight="bold" fill="#000" textLength="32.6" lengthAdjust="spacingAndGlyphs">Mock</text>
<rect x="352.1" y="239.85" width="35.999999999999986" height="120.04999999999998" fill="#939393" stroke="#000" stroke-width="2.2"/>
<line x1="370.0" y1="220.75" x2="370.0" y2="255" stroke="#000" stroke-width="2.0"/>
<line x1="360" y1="220.75" x2="380" y2="220.75" stroke="#000" stroke-width="2.0"/>
<line x1="360" y1="255" x2="380" y2="255" stroke="#000" stroke-width="2.0"/>
<line x1="370.1" y1="359.9" x2="370.1" y2="364.7" stroke="#000" stroke-width="1.6"/>
<text x="351.0" y="378" font-size="12.8" font-weight="bold" fill="#000" textLength="38.9" lengthAdjust="spacingAndGlyphs">DMSO</text>
<rect x="406.85" y="326.85" width="36.3" height="33.049999999999976" fill="#939393" stroke="#000" stroke-width="2.2"/>
<line x1="425.25" y1="304.5" x2="425.25" y2="345.5" stroke="#000" stroke-width="2.0"/>
<line x1="415.5" y1="304.5" x2="435" y2="304.5" stroke="#000" stroke-width="2.0"/>
<line x1="415.5" y1="345.5" x2="435" y2="345.5" stroke="#000" stroke-width="2.0"/>
<line x1="425.0" y1="359.9" x2="425.0" y2="364.7" stroke="#000" stroke-width="1.6"/>
<text x="408.4" y="378" font-size="12.8" font-weight="bold" fill="#000" textLength="31.6" lengthAdjust="spacingAndGlyphs">4µ8C</text>
<rect x="462.3" y="269.1" width="36.3" height="90.79999999999998" fill="#939393" stroke="#000" stroke-width="2.2"/>
<line x1="480.29999999999995" y1="245.2" x2="480.29999999999995" y2="290" stroke="#000" stroke-width="2.0"/>
<line x1="470.2" y1="245.2" x2="490.4" y2="245.2" stroke="#000" stroke-width="2.0"/>
<line x1="470.2" y1="290" x2="490.4" y2="290" stroke="#000" stroke-width="2.0"/>
<line x1="480.45" y1="359.9" x2="480.45" y2="364.7" stroke="#000" stroke-width="1.6"/>
<text x="450.9" y="378" font-size="12.8" font-weight="bold" fill="#000" textLength="57.8" lengthAdjust="spacingAndGlyphs">NecroX-5</text>
<line x1="370" y1="187.5" x2="429.8" y2="187.5" stroke="#000" stroke-width="1.5"/>
<line x1="315" y1="198.9" x2="374.5" y2="198.9" stroke="#000" stroke-width="1.5"/>
<line x1="315" y1="210.3" x2="481" y2="210.3" stroke="#000" stroke-width="1.5"/>
<polygon points="346.30,188.40 347.11,190.28 349.15,190.47 347.61,191.83 348.06,193.83 346.30,192.78 344.54,193.83 344.99,191.83 343.45,190.47 345.49,190.28" fill="#000"/>
<polygon points="352.15,188.40 352.96,190.28 355.00,190.47 353.46,191.83 353.91,193.83 352.15,192.78 350.39,193.83 350.84,191.83 349.30,190.47 351.34,190.28" fill="#000"/>
<polygon points="358.00,188.40 358.81,190.28 360.85,190.47 359.31,191.83 359.76,193.83 358.00,192.78 356.24,193.83 356.69,191.83 355.15,190.47 357.19,190.28" fill="#000"/>
<polygon points="363.85,188.40 364.66,190.28 366.70,190.47 365.16,191.83 365.61,193.83 363.85,192.78 362.09,193.83 362.54,191.83 361.00,190.47 363.04,190.28" fill="#000"/>
<polygon points="410.60,176.60 411.41,178.48 413.45,178.67 411.91,180.03 412.36,182.03 410.60,180.98 408.84,182.03 409.29,180.03 407.75,178.67 409.79,178.48" fill="#000"/>
<polygon points="416.45,176.60 417.26,178.48 419.30,178.67 417.76,180.03 418.21,182.03 416.45,180.98 414.69,182.03 415.14,180.03 413.60,178.67 415.64,178.48" fill="#000"/>
<polygon points="422.30,176.60 423.11,178.48 425.15,178.67 423.61,180.03 424.06,182.03 422.30,180.98 420.54,182.03 420.99,180.03 419.45,178.67 421.49,178.48" fill="#000"/>
<polygon points="468.20,199.30 469.01,201.18 471.05,201.37 469.51,202.73 469.96,204.73 468.20,203.68 466.44,204.73 466.89,202.73 465.35,201.37 467.39,201.18" fill="#000"/>
<polygon points="474.05,199.30 474.86,201.18 476.90,201.37 475.36,202.73 475.81,204.73 474.05,203.68 472.29,204.73 472.74,202.73 471.20,201.37 473.24,201.18" fill="#000"/>
<line x1="347.7" y1="386.5" x2="512.5" y2="386.5" stroke="#000" stroke-width="1.5"/>
<text x="406.6" y="406.25" font-size="12.8" font-weight="bold" fill="#000" textLength="37.1" lengthAdjust="spacingAndGlyphs">MRSA</text>
<text x="0" y="0" font-size="12.8" font-weight="bold" fill="#000" text-anchor="middle" transform="translate(246.6,279.2) rotate(-90)">Fluo-4 AM (F<tspan font-size="9.4" dy="5.0">Max</tspan><tspan dy="-5.0"> / F</tspan><tspan font-size="9.4" dy="5.0">Basline</tspan><tspan dy="-5.0">)</tspan></text>
<line x1="274.4" y1="630.5" x2="278.4" y2="630.5" stroke="#000" stroke-width="1.6"/>
<text x="273.0" y="635.1" font-size="12.8" font-weight="bold" fill="#000" text-anchor="end">0</text>
<line x1="274.4" y1="577.4" x2="278.4" y2="577.4" stroke="#000" stroke-width="1.6"/>
<text x="273.0" y="582.0" font-size="12.8" font-weight="bold" fill="#000" text-anchor="end">5</text>
<line x1="274.4" y1="524.3" x2="278.4" y2="524.3" stroke="#000" stroke-width="1.6"/>
<text x="273.0" y="528.9" font-size="12.8" font-weight="bold" fill="#000" text-anchor="end">10</text>
<line x1="274.4" y1="471.20000000000005" x2="278.4" y2="471.20000000000005" stroke="#000" stroke-width="1.6"/>
<text x="273.0" y="475.80000000000007" font-size="12.8" font-weight="bold" fill="#000" text-anchor="end">15</text>
<line x1="278.4" y1="470.40000000000003" x2="278.4" y2="631.3" stroke="#000" stroke-width="1.8"/>
<line x1="278.4" y1="630.5" x2="518.7" y2="630.5" stroke="#000" stroke-width="1.8"/>
<rect x="297.6" y="618.6" width="36.90000000000002" height="11.9" fill="#939393" stroke="#000" stroke-width="2.2"/>
<line x1="315.9" y1="613.2" x2="315.9" y2="621" stroke="#000" stroke-width="2.0"/>
<line x1="306.2" y1="613.2" x2="325.6" y2="613.2" stroke="#000" stroke-width="2.0"/>
<line x1="306.2" y1="621" x2="325.6" y2="621" stroke="#000" stroke-width="2.0"/>
<line x1="316.05" y1="630.5" x2="316.05" y2="635.3" stroke="#000" stroke-width="1.6"/>
<text x="299.4" y="648.1" font-size="12.8" font-weight="bold" fill="#000" textLength="33.2" lengthAdjust="spacingAndGlyphs">Mock</text>
<rect x="352.1" y="526.0" width="37.8" height="104.50000000000003" fill="#939393" stroke="#000" stroke-width="2.2"/>
<line x1="371.0" y1="507" x2="371.0" y2="543" stroke="#000" stroke-width="2.0"/>
<line x1="361" y1="507" x2="381" y2="507" stroke="#000" stroke-width="2.0"/>
<line x1="361" y1="543" x2="381" y2="543" stroke="#000" stroke-width="2.0"/>
<line x1="371.0" y1="630.5" x2="371.0" y2="635.3" stroke="#000" stroke-width="1.6"/>
<text x="351.2" y="648.1" font-size="12.8" font-weight="bold" fill="#000" textLength="39.1" lengthAdjust="spacingAndGlyphs">DMSO</text>
<rect x="408.1" y="505.5" width="36.499999999999986" height="125.00000000000003" fill="#939393" stroke="#000" stroke-width="2.2"/>
<line x1="426.29999999999995" y1="486.5" x2="426.29999999999995" y2="521" stroke="#000" stroke-width="2.0"/>
<line x1="416.9" y1="486.5" x2="435.7" y2="486.5" stroke="#000" stroke-width="2.0"/>
<line x1="416.9" y1="521" x2="435.7" y2="521" stroke="#000" stroke-width="2.0"/>
<line x1="426.35" y1="630.5" x2="426.35" y2="635.3" stroke="#000" stroke-width="1.6"/>
<text x="409.9" y="648.1" font-size="12.8" font-weight="bold" fill="#000" textLength="31.8" lengthAdjust="spacingAndGlyphs">4µ8C</text>
<rect x="463.5" y="524.0" width="36.3" height="106.50000000000003" fill="#939393" stroke="#000" stroke-width="2.2"/>
<line x1="481.7" y1="508.6" x2="481.7" y2="536.4" stroke="#000" stroke-width="2.0"/>
<line x1="472.4" y1="508.6" x2="491" y2="508.6" stroke="#000" stroke-width="2.0"/>
<line x1="472.4" y1="536.4" x2="491" y2="536.4" stroke="#000" stroke-width="2.0"/>
<line x1="481.65" y1="630.5" x2="481.65" y2="635.3" stroke="#000" stroke-width="1.6"/>
<text x="452.9" y="648.1" font-size="12.8" font-weight="bold" fill="#000" textLength="57.3" lengthAdjust="spacingAndGlyphs">NecroX-5</text>
<line x1="315.8" y1="452.2" x2="376" y2="452.2" stroke="#000" stroke-width="1.5"/>
<line x1="315.8" y1="464.5" x2="428.5" y2="464.5" stroke="#000" stroke-width="1.5"/>
<line x1="315.8" y1="476.1" x2="481.8" y2="476.1" stroke="#000" stroke-width="1.5"/>
<polygon points="352.10,442.00 352.91,443.88 354.95,444.07 353.41,445.43 353.86,447.43 352.10,446.38 350.34,447.43 350.79,445.43 349.25,444.07 351.29,443.88" fill="#000"/>
<polygon points="357.95,442.00 358.76,443.88 360.80,444.07 359.26,445.43 359.71,447.43 357.95,446.38 356.19,447.43 356.64,445.43 355.10,444.07 357.14,443.88" fill="#000"/>
<polygon points="363.80,442.00 364.61,443.88 366.65,444.07 365.11,445.43 365.56,447.43 363.80,446.38 362.04,447.43 362.49,445.43 360.95,444.07 362.99,443.88" fill="#000"/>
<polygon points="369.65,442.00 370.46,443.88 372.50,444.07 370.96,445.43 371.41,447.43 369.65,446.38 367.89,447.43 368.34,445.43 366.80,444.07 368.84,443.88" fill="#000"/>
<polygon points="404.10,453.40 404.91,455.28 406.95,455.47 405.41,456.83 405.86,458.83 404.10,457.78 402.34,458.83 402.79,456.83 401.25,455.47 403.29,455.28" fill="#000"/>
<polygon points="409.95,453.40 410.76,455.28 412.80,455.47 411.26,456.83 411.71,458.83 409.95,457.78 408.19,458.83 408.64,456.83 407.10,455.47 409.14,455.28" fill="#000"/>
<polygon points="415.80,453.40 416.61,455.28 418.65,455.47 417.11,456.83 417.56,458.83 415.80,457.78 414.04,458.83 414.49,456.83 412.95,455.47 414.99,455.28" fill="#000"/>
<polygon points="421.65,453.40 422.46,455.28 424.50,455.47 422.96,456.83 423.41,458.83 421.65,457.78 419.89,458.83 420.34,456.83 418.80,455.47 420.84,455.28" fill="#000"/>
<polygon points="463.40,465.20 464.21,467.08 466.25,467.27 464.71,468.63 465.16,470.63 463.40,469.58 461.64,470.63 462.09,468.63 460.55,467.27 462.59,467.08" fill="#000"/>
<polygon points="469.25,465.20 470.06,467.08 472.10,467.27 470.56,468.63 471.01,470.63 469.25,469.58 467.49,470.63 467.94,468.63 466.40,467.27 468.44,467.08" fill="#000"/>
<polygon points="475.10,465.20 475.91,467.08 477.95,467.27 476.41,468.63 476.86,470.63 475.10,469.58 473.34,470.63 473.79,468.63 472.25,467.27 474.29,467.08" fill="#000"/>
<line x1="349" y1="656.5" x2="512.7" y2="656.5" stroke="#000" stroke-width="1.5"/>
<text x="368.0" y="676.2" font-size="12.8" font-weight="bold" fill="#000" textLength="115.7" lengthAdjust="spacingAndGlyphs">Calcium Ionophore</text>
<text x="0" y="0" font-size="12.8" font-weight="bold" fill="#000" text-anchor="middle" transform="translate(246.6,549.3) rotate(-90)">Fluo-4 AM (F<tspan font-size="9.4" dy="5.0">Max</tspan><tspan dy="-5.0"> / F</tspan><tspan font-size="9.4" dy="5.0">Basline</tspan><tspan dy="-5.0">)</tspan></text>
</svg>
</body></html>
